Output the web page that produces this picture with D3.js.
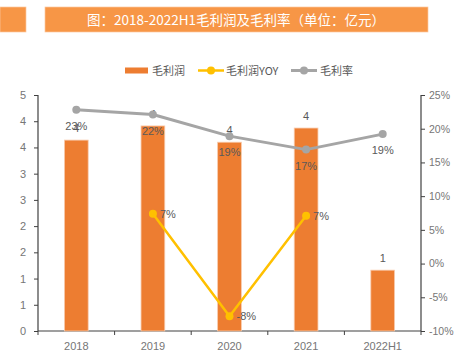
<!DOCTYPE html>
<html>
<head>
<meta charset="utf-8">
<script src="https://cdn.jsdelivr.net/npm/d3@7"></script>
<style>
  body { margin: 0; background: #fff; }
  svg { display: block; font-family: "Noto Sans CJK SC", "Liberation Sans", sans-serif; }
</style>
</head>
<body>
<svg width="454" height="354"></svg>
<script>
var years = ["2018", "2019", "2020", "2021", "2022H1"];
var profit = [3.64, 3.91, 3.60, 3.87, 1.16];
var profitYoy = [null, 7.4, -7.8, 7.1, null];
var margin = [22.8, 22.1, 18.9, 16.9, 19.2];
var leftTicks = [0, 0.5, 1, 1.5, 2, 2.5, 3, 3.5, 4, 4.5];
var rightTicks = [-10, -5, 0, 5, 10, 15, 20, 25];

var svg = d3.select("svg"),
    m = {top: 95, right: 33, bottom: 23, left: 38},
    width = +svg.attr("width") - m.left - m.right,
    height = +svg.attr("height") - m.top - m.bottom;

// title bar
svg.append("rect").attr("x", 0).attr("y", 7).attr("width", 26).attr("height", 25)
    .attr("fill", "#f79646").attr("stroke", "#fbc9a0").attr("stroke-width", 0.7);
svg.append("rect").attr("x", 45).attr("y", 7).attr("width", 383).attr("height", 25)
    .attr("fill", "#f79646").attr("stroke", "#fbc9a0").attr("stroke-width", 0.7);
svg.append("text").attr("x", 236).attr("y", 25).attr("text-anchor", "middle")
    .attr("fill", "#fff").attr("font-size", 13.5)
    .text("图：2018-2022H1毛利润及毛利率（单位：亿元）");

var g = svg.append("g").attr("transform", "translate(" + m.left + "," + m.top + ")");

var x = d3.scaleBand().domain(years).range([0, width]).paddingInner(0.69).paddingOuter(0.345);
var y = d3.scaleLinear().domain([0, 4.5]).range([height, 0]);
var y2 = d3.scaleLinear().domain([-10, 25]).range([height, 0]);
var cx = function(i) { return x(years[i]) + x.bandwidth() / 2; };

// axes
var xAxis = g.append("g").attr("transform", "translate(0," + height + ")")
    .call(d3.axisBottom(x).tickSize(0).tickPadding(11));
xAxis.selectAll(".tick").append("line")
    .attr("x1", x.step() / 2).attr("x2", x.step() / 2).attr("y2", 4).attr("stroke", "#404040");
g.append("line").attr("x1", 0).attr("x2", 0).attr("y1", height).attr("y2", height + 4).attr("stroke", "#404040");

var yAxis = g.append("g")
    .call(d3.axisLeft(y).tickValues(leftTicks).tickSize(4).tickPadding(8).tickFormat(d3.format(".0f")));
var y2Axis = g.append("g").attr("transform", "translate(" + width + ",0)")
    .call(d3.axisRight(y2).tickValues(rightTicks).tickSize(4).tickPadding(4).tickFormat(function(d) { return d + "%"; }));

[xAxis, yAxis, y2Axis].forEach(function(a) {
  a.select(".domain").attr("stroke", "#404040").attr("stroke-width", 1.2);
  a.selectAll(".tick line").attr("stroke", "#404040");
  a.selectAll("text").attr("fill", "#767676").attr("font-size", 11)
    .attr("font-family", "Liberation Sans, sans-serif");
});
y2Axis.selectAll("text").attr("font-size", 10.5);
yAxis.select(".domain").attr("d", "M0," + height + "V0");
y2Axis.select(".domain").attr("d", "M0," + height + "V0");
xAxis.select(".domain").attr("d", "M0,0H" + width);

// bars
g.selectAll(".bar").data(profit).enter().append("rect")
    .attr("x", function(d, i) { return x(years[i]); })
    .attr("y", function(d) { return y(d); })
    .attr("width", x.bandwidth())
    .attr("height", function(d) { return height - y(d); })
    .attr("fill", "#ed7d31").attr("stroke", "#f8cbad").attr("stroke-width", 0.8);

g.selectAll(".barlabel").data(profit).enter().append("text")
    .attr("x", function(d, i) { return cx(i); })
    .attr("y", function(d) { return y(d) - 8; })
    .attr("text-anchor", "middle").attr("fill", "#595959").attr("font-size", 11)
    .attr("font-family", "Liberation Sans, sans-serif")
    .text(function(d) { return d3.format(".0f")(d); });

// margin line
var marginPts = margin.map(function(d, i) { return [cx(i), y2(d)]; });
g.append("path").datum(marginPts).attr("d", d3.line())
    .attr("fill", "none").attr("stroke", "#a5a5a5").attr("stroke-width", 3).attr("stroke-linejoin", "round");
g.selectAll(".mdot").data(marginPts).enter().append("circle")
    .attr("cx", function(d) { return d[0]; }).attr("cy", function(d) { return d[1]; })
    .attr("r", 4).attr("fill", "#a5a5a5");
g.selectAll(".mlabel").data(margin).enter().append("text")
    .attr("x", function(d, i) { return cx(i); })
    .attr("y", function(d) { return y2(d) + 20; })
    .attr("text-anchor", "middle").attr("fill", "#595959").attr("font-size", 11)
    .attr("font-family", "Liberation Sans, sans-serif")
    .text(function(d) { return Math.round(d) + "%"; });

// yoy line
var yoyPts = [];
profitYoy.forEach(function(d, i) { if (d !== null) yoyPts.push([cx(i), y2(d), d]); });
g.append("path").datum(yoyPts).attr("d", d3.line())
    .attr("fill", "none").attr("stroke", "#ffc000").attr("stroke-width", 2.5).attr("stroke-linejoin", "round");
g.selectAll(".ydot").data(yoyPts).enter().append("circle")
    .attr("cx", function(d) { return d[0]; }).attr("cy", function(d) { return d[1]; })
    .attr("r", 4).attr("fill", "#ffc000");
g.selectAll(".ylabel").data(yoyPts).enter().append("text")
    .attr("x", function(d) { return d[0] + 7; })
    .attr("y", function(d) { return d[1] + 4; })
    .attr("fill", "#595959").attr("font-size", 11)
    .attr("font-family", "Liberation Sans, sans-serif")
    .text(function(d) { return Math.round(d[2]) + "%"; });

// legend
var leg = svg.append("g").attr("font-size", 11).attr("fill", "#595959");
leg.append("rect").attr("x", 125).attr("y", 67.5).attr("width", 23).attr("height", 6).attr("fill", "#ed7d31");
leg.append("text").attr("x", 152).attr("y", 75).text("毛利润");
leg.append("line").attr("x1", 198).attr("x2", 224).attr("y1", 70.5).attr("y2", 70.5).attr("stroke", "#ffc000").attr("stroke-width", 2.5);
leg.append("circle").attr("cx", 211).attr("cy", 70.5).attr("r", 4).attr("fill", "#ffc000");
leg.append("text").attr("x", 226).attr("y", 75).text("毛利润YOY");
leg.append("line").attr("x1", 291).attr("x2", 317).attr("y1", 70.5).attr("y2", 70.5).attr("stroke", "#a5a5a5").attr("stroke-width", 3);
leg.append("circle").attr("cx", 304).attr("cy", 70.5).attr("r", 4).attr("fill", "#a5a5a5");
leg.append("text").attr("x", 320).attr("y", 75).text("毛利率");
</script>
</body>
</html>
